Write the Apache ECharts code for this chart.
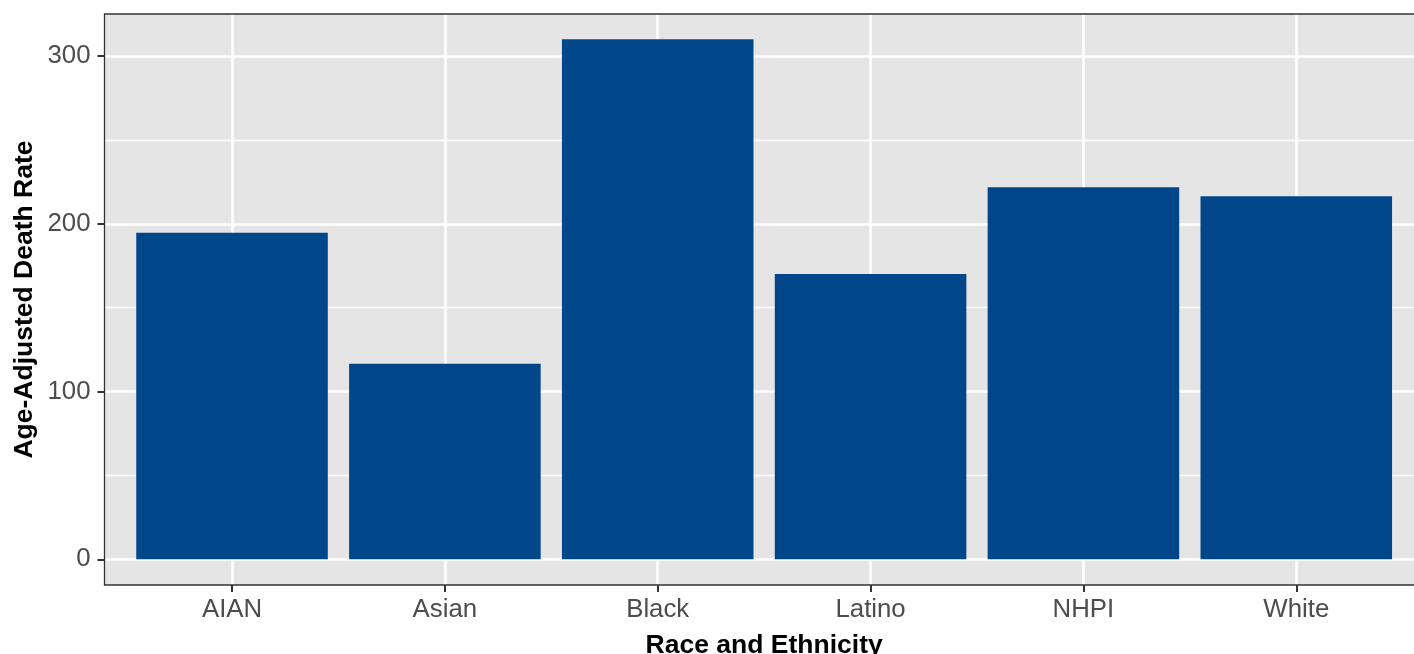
<!DOCTYPE html>
<html>
<head>
<meta charset="utf-8">
<script src="https://cdn.jsdelivr.net/npm/echarts@6/dist/echarts.min.js"></script>
<style>html,body{margin:0;padding:0;background:#fff;overflow:hidden}#c{width:1414px;height:654px}</style>
</head>
<body>
<div id="c"></div>
<script>
const categories = ['AIAN', 'Asian', 'Black', 'Latino', 'NHPI', 'White'];
const deathRates = [194.7, 116.6, 310.0, 170.1, 221.8, 216.4];
const yTicks = [0, 100, 200, 300];
const xTitle = 'Race and Ethnicity';
const yTitle = 'Age-Adjusted Death Rate';

const chart = echarts.init(document.getElementById('c'), null, {renderer: 'canvas'});
const FONT = 'Liberation Sans, Arial, sans-serif';
const panel = {left: 104.5, width: 1320, top: 14, bottom: 69, outerBoundsMode: 'none', containLabel: false};
const band = {left: 125.6, right: 11.3, outerBoundsMode: 'none', containLabel: false};
const yr = {top: 56.05, bottom: 94.7};

chart.setOption({
  animation: false,
  backgroundColor: '#ffffff',
  grid: [
    Object.assign({show: true, backgroundColor: '#E5E5E5', borderWidth: 0, z: -1}, panel),
    Object.assign({}, band, {top: panel.top, bottom: panel.bottom}),
    {left: panel.left, width: panel.width, top: yr.top, bottom: yr.bottom, outerBoundsMode: 'none', containLabel: false},
    Object.assign({}, band, yr),
    Object.assign({show: true, backgroundColor: 'transparent', borderColor: '#333333', borderWidth: 1.3, z: 5}, panel)
  ],
  xAxis: [
    {gridIndex: 0, type: 'value', show: false, min: 0, max: 1},
    {gridIndex: 1, type: 'category', data: categories, boundaryGap: true,
      axisLine: {show: false},
      axisTick: {show: true, alignWithLabel: true, length: 7, lineStyle: {color: '#333333', width: 2}},
      axisLabel: {color: '#4D4D4D', fontSize: 25.8, fontFamily: FONT, margin: 12},
      splitLine: {show: true, alignWithLabel: true, lineStyle: {color: '#FFFFFF', width: 2.6}},
      name: xTitle, nameLocation: 'middle', nameGap: 47,
      nameTextStyle: {color: '#000000', fontSize: 26.5, fontWeight: 'bold', fontFamily: FONT}
    },
    {gridIndex: 2, type: 'value', show: false, min: 0, max: 1},
    {gridIndex: 3, type: 'category', data: categories, show: false, boundaryGap: true}
  ],
  yAxis: [
    {gridIndex: 0, type: 'value', show: false, min: 0, max: 1},
    {gridIndex: 1, type: 'value', min: 0, max: 1,
      axisLine: {show: false}, axisTick: {show: false}, axisLabel: {show: false}, splitLine: {show: false},
      name: yTitle, nameLocation: 'middle', nameGap: 87, nameRotate: 90,
      nameTextStyle: {color: '#000000', fontSize: 26.5, fontWeight: 'bold', fontFamily: FONT}
    },
    {gridIndex: 2, type: 'value', min: yTicks[0], max: yTicks[yTicks.length - 1], interval: 100,
      axisLine: {show: false},
      axisTick: {show: true, length: 7, lineStyle: {color: '#333333', width: 2}},
      axisLabel: {color: '#4D4D4D', fontSize: 25.8, fontFamily: FONT, margin: 14, padding: [3, 0, 0, 0]},
      splitLine: {show: true, lineStyle: {color: '#FFFFFF', width: 2.6}},
      minorTick: {show: false, splitNumber: 2},
      minorSplitLine: {show: true, lineStyle: {color: '#FFFFFF', width: 1.3}}
    },
    {gridIndex: 3, type: 'value', show: false, min: yTicks[0], max: yTicks[yTicks.length - 1]}
  ],
  series: [{
    type: 'bar',
    xAxisIndex: 3, yAxisIndex: 3,
    data: deathRates,
    barWidth: '90%',
    clip: false,
    itemStyle: {color: '#02468A'},
    z: 3
  }]
});
</script>
</body>
</html>
